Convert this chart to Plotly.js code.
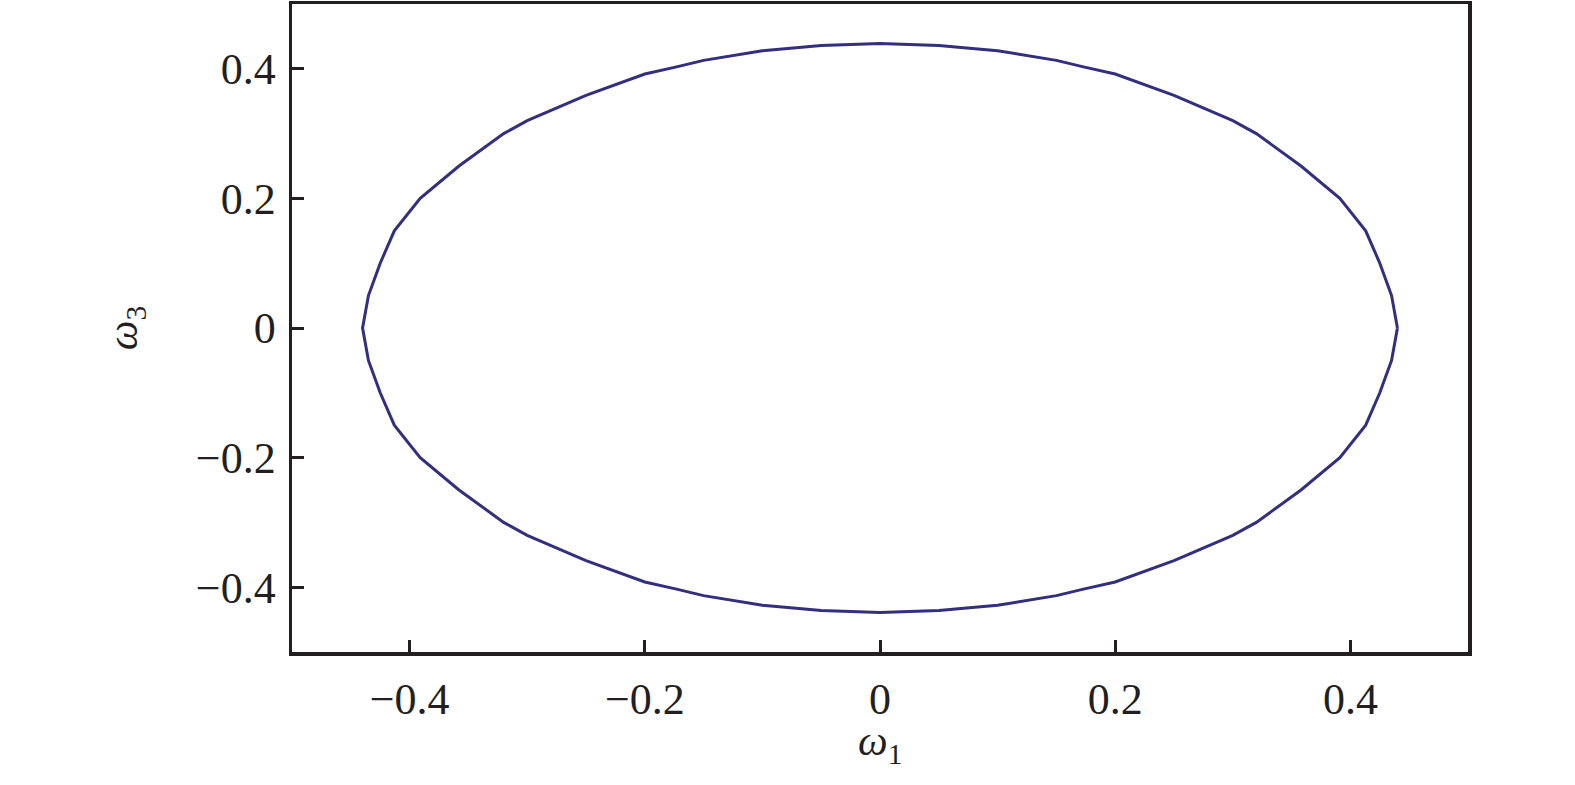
<!DOCTYPE html>
<html>
<head>
<meta charset="utf-8">
<script src="https://cdn.plot.ly/plotly-3.0.1.min.js"></script>
<style>html,body{margin:0;padding:0;background:#fff;}#chart{width:1575px;height:785px;}</style>
</head>
<body>
<div id="chart"></div>
<script>
// Orbit vertices (omega1, omega3)
const omega1 = [0.44, 0.435, 0.425, 0.413, 0.391, 0.358, 0.32, 0.3, 0.25, 0.2, 0.173, 0.15, 0.1, 0.05, 0,
  -0.05, -0.1, -0.15, -0.173, -0.2, -0.25, -0.3, -0.32, -0.358, -0.391, -0.413, -0.425, -0.435, -0.44,
  -0.435, -0.425, -0.413, -0.391, -0.358, -0.32, -0.3, -0.25, -0.2, -0.173, -0.15, -0.1, -0.05, 0,
  0.05, 0.1, 0.15, 0.173, 0.2, 0.25, 0.3, 0.32, 0.358, 0.391, 0.413, 0.425, 0.435, 0.44];
const omega3 = [0, 0.05, 0.1, 0.15, 0.2, 0.25, 0.3, 0.32, 0.359, 0.392, 0.403, 0.413, 0.428, 0.436, 0.439,
  0.436, 0.428, 0.413, 0.403, 0.392, 0.359, 0.32, 0.3, 0.25, 0.2, 0.15, 0.1, 0.05, 0,
  -0.05, -0.1, -0.15, -0.2, -0.25, -0.3, -0.32, -0.359, -0.392, -0.403, -0.413, -0.428, -0.436, -0.439,
  -0.436, -0.428, -0.413, -0.403, -0.392, -0.359, -0.32, -0.3, -0.25, -0.2, -0.15, -0.1, -0.05, 0];
const tickVals = [-0.4, -0.2, 0, 0.2, 0.4];
const tickText = ['\u22120.4', '\u22120.2', '0', '0.2', '0.4'];
const xTitle = '<i>ω</i><sub>1</sub>';
const yTitle = '<i>ω</i><sub>3</sub>';

const ink = '#231f20';
const fontFam = 'Liberation Serif, Times New Roman, serif';

const trace = {
  x: omega1, y: omega3, type: 'scatter', mode: 'lines',
  line: {color: '#332f7f', width: 3},
  hoverinfo: 'skip'
};

const axisCommon = {
  range: [-0.5, 0.5],
  tickvals: tickVals, ticktext: tickText,
  ticks: 'inside', ticklen: 12, tickwidth: 3, tickcolor: ink,
  showline: true, linecolor: ink, linewidth: 3.5, mirror: true,
  showgrid: false, zeroline: false,
  tickfont: {family: fontFam, size: 44, color: ink},
  automargin: false
};

const layout = {
  width: 1575, height: 785,
  margin: {l: 292, r: 107, t: 4, b: 133},
  paper_bgcolor: '#fff', plot_bgcolor: '#fff',
  showlegend: false,
  font: {family: fontFam, color: ink},
  xaxis: Object.assign({}, axisCommon, {ticklabelstandoff: 6}),
  yaxis: Object.assign({}, axisCommon, {
    ticklabelstandoff: 4,
    title: {text: yTitle, font: {family: fontFam, size: 42, color: ink}, standoff: 46}
  }),
  annotations: [{
    text: xTitle, xref: 'paper', yref: 'paper', x: 0.5, y: -0.142,
    xanchor: 'center', yanchor: 'middle', showarrow: false, borderpad: 0,
    font: {family: fontFam, size: 42, color: ink}
  }]
};

Plotly.newPlot('chart', [trace], layout, {displayModeBar: false, staticPlot: true});
</script>
</body>
</html>
